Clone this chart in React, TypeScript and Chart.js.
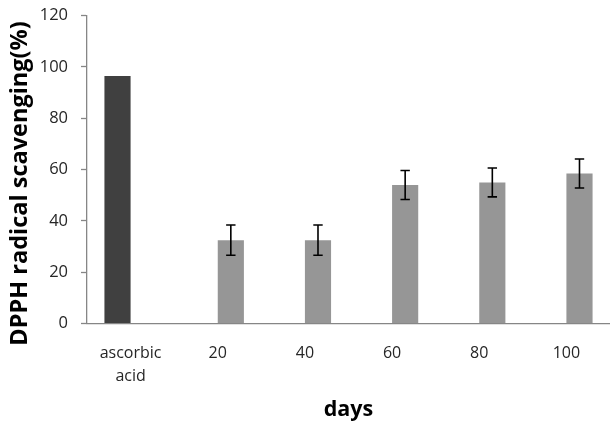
import React, { useEffect, useRef } from "react";
import { Chart, registerables } from "chart.js";

Chart.register(...registerables);

const categories: (string | string[])[] = [["ascorbic", "acid"], "20", "40", "60", "80", "100"];
const ascorbicValues: (number | null)[] = [96.5, null, null, null, null, null];
const scavengingValues: (number | null)[] = [null, 32.5, 32.5, 54, 55, 58.5];
const scavengingErrors: (number | null)[] = [null, 5.9, 5.9, 5.65, 5.65, 5.65];
const yTicks = [0, 20, 40, 60, 80, 100, 120];
const yTitle = "DPPH radical scavenging(%)";
const xTitle = "days";

const errorBarPlugin = {
  id: "errorBars",
  afterDatasetsDraw(chart: any) {
    const meta = chart.getDatasetMeta(1);
    const y = chart.scales.y;
    const ctx = chart.ctx;
    ctx.save();
    ctx.strokeStyle = "#000000";
    ctx.lineWidth = 1.6;
    meta.data.forEach((bar: any, i: number) => {
      const v = scavengingValues[i];
      const e = scavengingErrors[i];
      if (v == null || e == null) return;
      const x = bar.x;
      const top = y.getPixelForValue(v + e);
      const bot = y.getPixelForValue(v - e);
      const cap = 4.7;
      ctx.beginPath();
      ctx.moveTo(x, top);
      ctx.lineTo(x, bot);
      ctx.moveTo(x - cap, top);
      ctx.lineTo(x + cap, top);
      ctx.moveTo(x - cap, bot);
      ctx.lineTo(x + cap, bot);
      ctx.stroke();
    });
    ctx.restore();
  },
};

const titlesPlugin = {
  id: "titles",
  afterDraw(chart: any) {
    const ctx = chart.ctx;
    const area = chart.chartArea;
    ctx.save();
    ctx.fillStyle = "#000000";
    ctx.textAlign = "center";
    ctx.textBaseline = "middle";
    ctx.font = "bold 23.5px 'Open Sans'";
    ctx.translate(20, 183.5);
    ctx.rotate(-Math.PI / 2);
    ctx.fillText(yTitle, 0, 0);
    ctx.restore();
    ctx.save();
    ctx.fillStyle = "#000000";
    ctx.textAlign = "center";
    ctx.textBaseline = "middle";
    ctx.font = "bold 21.5px 'Open Sans'";
    ctx.fillText(xTitle, (area.left + area.right) / 2, 410);
    ctx.restore();
  },
};

export default function App() {
  const ref = useRef<HTMLCanvasElement | null>(null);
  useEffect(() => {
    document.body.style.margin = "0";
    if (!ref.current) return;
    const chart = new Chart(ref.current, {
      type: "bar",
      data: {
        labels: categories,
        datasets: [
          {
            data: ascorbicValues,
            backgroundColor: "#404040",
            categoryPercentage: 0.6,
            barPercentage: 1.0,
          },
          {
            data: scavengingValues,
            backgroundColor: "#969696",
            categoryPercentage: 0.6,
            barPercentage: 1.0,
          },
        ],
      },
      options: {
        animation: false,
        responsive: false,
        maintainAspectRatio: false,
        events: [],
        layout: { padding: { top: 15.7, right: 0, bottom: 0, left: 0 } },
        plugins: {
          legend: { display: false },
          tooltip: { enabled: false },
          title: { display: false },
        },
        scales: {
          x: {
            grid: { display: true, drawOnChartArea: false, drawTicks: false },
            border: { display: true, color: "#868686", width: 1.3 },
            ticks: {
              color: "#262626",
              font: { family: "'Open Sans'", size: 16, lineHeight: 1.4 },
              padding: 19,
              maxRotation: 0,
              autoSkip: false,
            },
            afterFit: (s: any) => {
              s.height = 103.5;
              s.paddingLeft = 0;
              s.paddingRight = 0;
            },
          },
          y: {
            min: 0,
            max: 120,
            afterBuildTicks: (s: any) => {
              s.ticks = yTicks.map((v) => ({ value: v }));
            },
            grid: {
              display: true,
              drawOnChartArea: false,
              drawTicks: true,
              tickLength: 6,
              tickColor: "#868686",
              tickWidth: 1.3,
            },
            border: { display: true, color: "#868686", width: 1.3 },
            ticks: {
              color: "#262626",
              font: { family: "'Open Sans'", size: 16.5 },
              padding: 13,
            },
            afterFit: (s: any) => {
              s.width = 87;
              s.paddingTop = 0;
              s.paddingBottom = 0;
            },
          },
        },
      },
      plugins: [errorBarPlugin, titlesPlugin],
    });
    return () => chart.destroy();
  }, []);
  return (
    <div style={{ width: 610, height: 427, position: "relative" }}>
      <canvas ref={ref} width={610} height={427} style={{ display: "block", width: 610, height: 427 }} />
    </div>
  );
}
